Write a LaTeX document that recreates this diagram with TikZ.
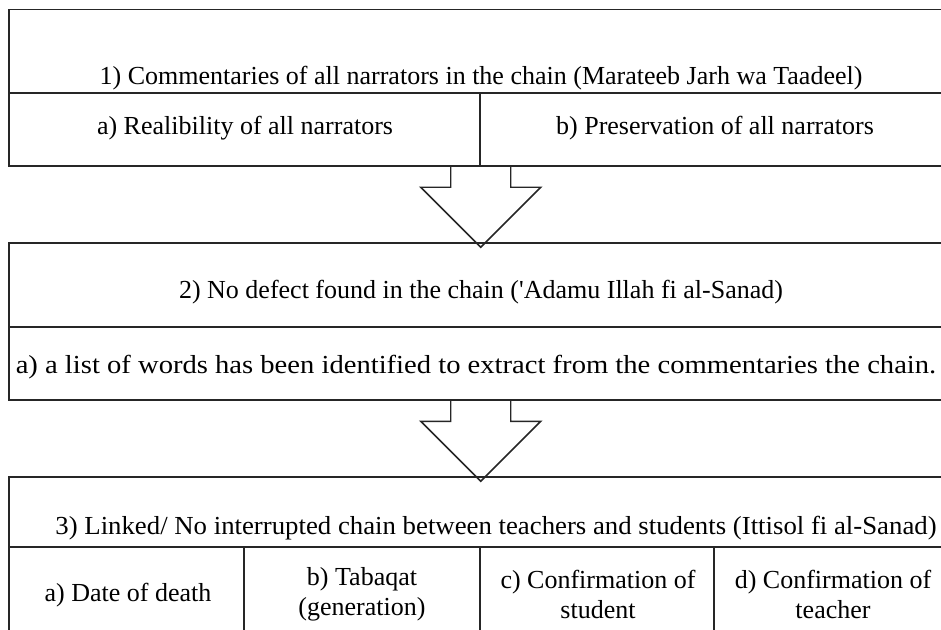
\documentclass[tikz,border=0pt]{standalone}
\usepackage{fontspec}
\usepackage{graphicx}
\setmainfont{Liberation Serif}
\usetikzlibrary{fit}
\begin{document}
\begin{tikzpicture}[x=0.75pt,y=-0.75pt,
  line width=1.1pt,
  cell/.style={draw=black!85, rectangle, inner sep=0pt},
  txt/.style={inner sep=0pt, align=center,
    font=\fontsize{19.5}{22.5}\selectfont},
  barrow/.style={draw=black!85, line join=miter}]
\useasboundingbox (0,0) rectangle (941,630);
\clip (0,0) rectangle (941,630);
\fill[white] (0,0) rectangle (941,630);

% step 1: narrators' commentaries
\node[cell, fit={(9,9.5) (950,93)}]   (c1h) {};
\node[cell, fit={(9,93) (480,166)}]   (c1a) {};
\node[cell, fit={(480,93) (950,166)}] (c1b) {};
\node[txt] (t1h) at (481,78)  {1) Commentaries of all narrators in the chain (Marateeb Jarh wa Taadeel)};
\node[txt] (t1a) at (245,128) {a) Realibility of all narrators};
\node[txt] (t1b) at (715,128) {b) Preservation of all narrators};

% step 2: no defect in the chain
\node[cell, fit={(9,243) (950,327)}]  (c2h) {};
\node[cell, fit={(9,327) (950,400)}]  (c2a) {};
\node[txt] (t2h) at (481,292) {2) No defect found in the chain (\textquotesingle Adamu Illah fi al-Sanad)};
\node[txt] (t2a) at (476,367) {\scalebox{1.10}[1]{a) a list of words has been identified to extract from the commentaries the chain.}};

% step 3: linked chain
\node[cell, fit={(9,477) (950,547)}]  (c3h) {};
\node[cell, fit={(9,547) (244,640)}]  (c3a) {};
\node[cell, fit={(244,547) (480,640)}] (c3b) {};
\node[cell, fit={(480,547) (714,640)}] (c3c) {};
\node[cell, fit={(714,547) (950,640)}] (c3d) {};
\node[txt] (t3h) at (496,528) {\scalebox{1.03}[1]{3) Linked/ No interrupted chain between teachers and students (Ittisol fi al-Sanad)}};
\node[txt] (t3a) at (128,595) {a) Date of death};
\node[txt] (t3b) at (362,594) {b) Tabaqat\\(generation)};
\node[txt] (t3c) at (598,594) {c) Confirmation of\\student};
\node[txt] (t3d) at (833,594) {d) Confirmation of\\teacher};

% block arrows between the steps
\coordinate (tipA) at ([yshift=-3.75pt]c1a.south east |- c2h.north);
\draw[barrow] ([xshift=-22.5pt]c1a.south east) |- ([xshift=-45pt,yshift=45pt]tipA)
  -- (tipA) -- ([xshift=45pt,yshift=45pt]tipA) -| ([xshift=22.5pt]c1a.south east);
\coordinate (topB) at (c1a.south east |- c2a.south);
\coordinate (tipB) at ([yshift=-3.75pt]topB |- c3h.north);
\draw[barrow] ([xshift=-22.5pt]topB) |- ([xshift=-45pt,yshift=45pt]tipB)
  -- (tipB) -- ([xshift=45pt,yshift=45pt]tipB) -| ([xshift=22.5pt]topB);
\end{tikzpicture}
\end{document}
